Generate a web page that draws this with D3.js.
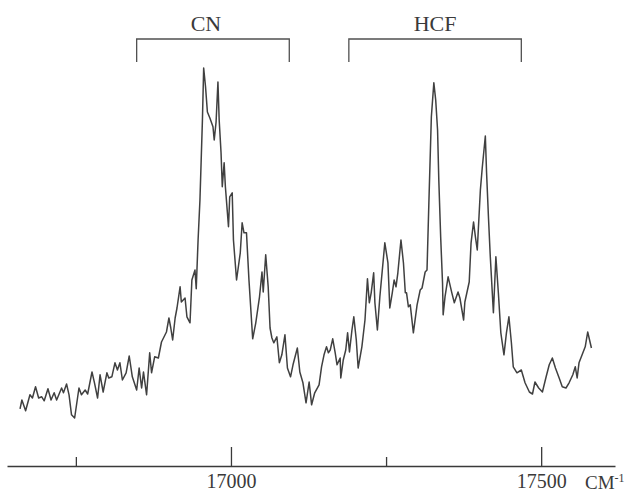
<!DOCTYPE html>
<html>
<head>
<meta charset="utf-8">
<style>
  body { margin: 0; background: #fff; }
  svg { display: block; }
  text { font-family: "Liberation Serif", "DejaVu Serif", serif; fill: #3a3a3a; }
</style>
</head>
<body>
<div id="canvas"></div>
<script src="https://d3js.org/d3.v7.min.js"></script>
<script>
// wavenumber (cm-1) and intensity (arbitrary units)
var wavenumber = [16660, 16663, 16669, 16676, 16680, 16685, 16690, 16695, 16699, 16705,
  16710, 16715, 16719, 16727, 16730, 16735, 16739, 16743, 16748, 16755,
  16759, 16765, 16769, 16776, 16780, 16785, 16789, 16794, 16800, 16803,
  16808, 16813, 16817, 16821, 16825, 16831, 16836, 16841, 16848, 16852,
  16856, 16859, 16864, 16869, 16872, 16877, 16883, 16888, 16896, 16900,
  16903, 16906, 16910, 16913, 16918, 16920, 16926, 16929, 16934, 16937,
  16942, 16944, 16947, 16950, 16952, 16954, 16956, 16959, 16962, 16966,
  16971, 16973, 16976, 16979, 16981, 16984, 16986, 16989, 16991, 16996,
  16998, 17002, 17004, 17009, 17015, 17018, 17021, 17025, 17029, 17035,
  17040, 17046, 17050, 17052, 17056, 17060, 17063, 17066, 17069, 17074,
  17078, 17082, 17087, 17091, 17096, 17100, 17107, 17111, 17116, 17121,
  17126, 17130, 17135, 17142, 17146, 17150, 17154, 17157, 17160, 17164,
  17168, 17171, 17176, 17177, 17181, 17185, 17188, 17191, 17195, 17198,
  17202, 17205, 17211, 17216, 17220, 17223, 17226, 17230, 17232, 17236,
  17240, 17248, 17253, 17256, 17260, 17263, 17266, 17269, 17274, 17278,
  17281, 17283, 17286, 17289, 17294, 17300, 17305, 17308, 17313, 17316,
  17319, 17323, 17327, 17330, 17333, 17335, 17338, 17341, 17342, 17345,
  17350, 17356, 17360, 17366, 17369, 17375, 17377, 17384, 17387, 17391,
  17394, 17397, 17402, 17405, 17410, 17412, 17415, 17418, 17423, 17427,
  17431, 17435, 17440, 17444, 17448, 17452, 17455, 17461, 17468, 17474,
  17481, 17486, 17490, 17496, 17502, 17508, 17513, 17518, 17523, 17529,
  17534, 17540, 17545, 17551, 17555, 17558, 17561, 17566, 17571, 17575,
  17581];

var intensity = [14.3, 16.5, 13.8, 17.8, 17.0, 19.8, 17.0, 17.3, 16.3, 19.3,
  16.5, 18.3, 16.5, 19.5, 18.3, 20.5, 17.8, 12.8, 12.0, 19.5,
  17.8, 19.0, 18.0, 23.5, 20.8, 17.0, 22.8, 18.5, 23.3, 22.0,
  22.3, 25.8, 24.0, 25.8, 21.5, 23.3, 27.5, 22.3, 19.0, 24.5,
  19.5, 23.5, 17.8, 28.3, 23.3, 27.3, 27.0, 31.0, 33.5, 37.0,
  34.5, 31.5, 37.0, 39.5, 44.8, 41.0, 42.0, 37.3, 35.8, 46.5,
  49.0, 44.3, 56.5, 66.5, 76.5, 86.5, 99.5, 94.8, 88.5, 87.0,
  84.8, 81.5, 86.0, 96.0, 86.5, 78.3, 69.8, 75.8, 69.8, 59.8,
  67.3, 68.3, 56.5, 46.5, 53.3, 60.8, 58.3, 58.3, 46.5, 31.8,
  35.8, 42.3, 48.5, 43.5, 52.8, 44.8, 34.5, 32.0, 30.8, 32.3,
  25.8, 27.8, 32.8, 24.5, 22.3, 25.3, 29.5, 23.5, 20.8, 15.8,
  21.0, 15.3, 18.3, 20.3, 24.8, 27.8, 29.8, 28.3, 29.0, 31.8,
  28.3, 25.3, 27.0, 22.0, 26.5, 29.0, 33.3, 28.5, 34.0, 37.3,
  31.5, 24.5, 29.8, 36.5, 46.8, 40.8, 43.3, 48.3, 40.8, 34.0,
  42.3, 55.8, 50.8, 39.5, 43.3, 46.5, 44.8, 48.3, 56.5, 50.8,
  43.3, 43.3, 39.8, 40.3, 33.3, 40.3, 44.0, 44.5, 48.5, 49.0,
  65.8, 87.3, 95.8, 91.5, 84.0, 71.5, 57.3, 45.8, 37.8, 42.3,
  47.3, 43.3, 40.8, 43.5, 42.0, 36.5, 41.0, 46.0, 55.8, 61.0,
  57.3, 54.0, 69.0, 74.5, 82.5, 73.3, 62.3, 52.3, 38.3, 52.3,
  43.3, 33.3, 27.8, 33.3, 37.3, 30.8, 24.8, 23.3, 24.0, 20.8,
  18.5, 18.0, 21.0, 19.5, 18.5, 22.3, 25.3, 27.0, 24.5, 22.0,
  19.8, 19.5, 20.8, 22.8, 24.8, 22.0, 25.8, 27.8, 29.8, 33.5,
  29.5];

var tick_values = [16750, 17000, 17250, 17500];
var tick_major = [false, true, false, true];
var tick_labels = ["", "17000", "", "17500"];

// band assignments (cm-1 ranges)
var band_names = ["CN", "HCF"];
var band_start = [16848, 17190];
var band_end = [17094, 17468];

var width = 640, height = 492;

var svg = d3.select("#canvas")
    .append("svg")
    .attr("width", width)
    .attr("height", height);

var xscale = d3.scaleLinear().domain([16639, 17619]).range([7, 615]);
var yscale = d3.scaleLinear().domain([0, 100]).range([466, 66]);

// axis with ticks pointing up, labels below
var xaxis = d3.axisBottom(xscale)
    .tickValues(tick_values)
    .tickSizeInner(-20)
    .tickSizeOuter(0)
    .tickPadding(8)
    .tickFormat(function(d, i) { return tick_labels[i]; });

var gx = svg.append("g")
    .attr("transform", "translate(0,466)")
    .call(xaxis);
gx.select(".domain").attr("stroke", "#3a3a3a").attr("stroke-width", 1.4);
gx.selectAll(".tick line")
    .attr("stroke", "#3a3a3a")
    .attr("stroke-width", 1.3)
    .attr("y2", function(d, i) { return tick_major[i] ? -19 : -9; });
gx.selectAll(".tick text")
    .attr("font-family", "Liberation Serif, DejaVu Serif, serif")
    .attr("font-size", 20)
    .attr("fill", "#3a3a3a")
    .attr("dy", "0.71em");

var unit = svg.append("text")
    .attr("x", 585)
    .attr("y", 489)
    .style("font-size", "19px");
unit.append("tspan").text("CM");
unit.append("tspan").text("-1").attr("dy", -7).style("font-size", "12px");

// spectrum trace
var points = wavenumber.map(function(w, i) { return [w, intensity[i]]; });
var line = d3.line()
    .x(function(d) { return xscale(d[0]); })
    .y(function(d) { return yscale(d[1]); });

svg.append("path")
    .datum(points)
    .attr("d", line)
    .attr("fill", "none")
    .attr("stroke", "#404040")
    .attr("stroke-width", 1.5)
    .attr("stroke-linejoin", "round");

// band brackets
var bands = band_names.map(function(n, i) { return {name: n, a: band_start[i], b: band_end[i]}; });
var bracket_top = 39, bracket_bottom = 62;

svg.selectAll(".bracket")
    .data(bands)
    .enter()
    .append("path")
    .attr("class", "bracket")
    .attr("d", function(d) {
        return "M" + xscale(d.a) + "," + bracket_bottom +
               "V" + bracket_top + "H" + xscale(d.b) + "V" + bracket_bottom;
    })
    .attr("fill", "none")
    .attr("stroke", "#505050")
    .attr("stroke-width", 1.3);

svg.selectAll(".band-label")
    .data(bands)
    .enter()
    .append("text")
    .attr("class", "band-label")
    .attr("x", function(d, i) { return (xscale(d.a) + xscale(d.b)) / 2 - (i == 0 ? 7 : 0); })
    .attr("y", 31)
    .style("font-size", "22px")
    .style("text-anchor", "middle")
    .text(function(d) { return d.name; });
</script>
</body>
</html>
